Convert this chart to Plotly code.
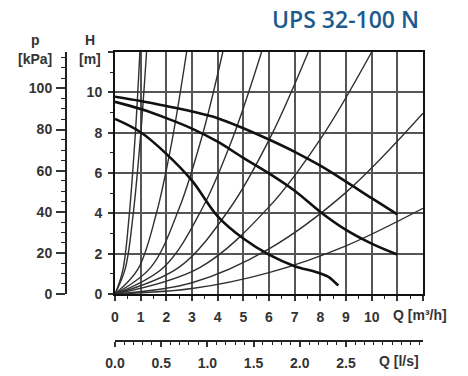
import plotly.graph_objects as go

# ---------------- data ----------------
q_ticks_m3h = [0, 1, 2, 3, 4, 5, 6, 7, 8, 9, 10, 11, 12]
q_tick_labels = ["0", "1", "2", "3", "4", "5", "6", "7", "8", "9", "10", "", ""]
h_ticks = [0, 2, 4, 6, 8, 10, 12]
h_tick_labels = ["0", "2", "4", "6", "8", "10", ""]
p_ticks = [0, 20, 40, 60, 80, 100]
ls_ticks = [0.0, 0.5, 1.0, 1.5, 2.0, 2.5]
ls_tick_labels = ["0.0", "0.5", "1.0", "1.5", "2.0", "2.5"]

# pump curves (Q m3/h, H m)
pump_high_q = [0, 1, 2, 3, 4, 5, 6, 7, 8, 9, 10, 11]
pump_high_h = [9.78, 9.57, 9.32, 9.05, 8.72, 8.22, 7.66, 7.05, 6.36, 5.57, 4.75, 3.95]
pump_mid_q = [0, 1, 2, 3, 4, 5, 6, 7, 8, 9, 10, 11]
pump_mid_h = [9.53, 9.17, 8.72, 8.2, 7.55, 6.75, 5.98, 5.12, 4.07, 3.18, 2.5, 1.96]
pump_low_q = [0, 1, 2, 3, 4, 5, 6, 7, 7.8, 8.3, 8.5, 8.7]
pump_low_h = [8.68, 8.02, 6.95, 5.62, 3.85, 2.75, 1.95, 1.38, 1.1, 0.86, 0.66, 0.42]

# system curves (Q m3/h, H m)
sys_a_q = [0, 0.3, 0.55, 0.8, 0.97]
sys_a_h = [0, 1.15, 3.85, 8.1, 12]
sys_b_q = [0, 0.4, 0.7, 1.0, 1.23]
sys_b_h = [0, 1.26, 3.87, 7.9, 12]
sys_c_q = [0, 0.9, 1.6, 2.2, 2.79]
sys_c_h = [0, 1.25, 3.94, 7.45, 12]
sys_d_q = [0, 1.4, 2.5, 3.4, 4.2]
sys_d_h = [0, 1.33, 4.25, 7.86, 12]
sys_e_q = [0, 1.9, 3.4, 4.6, 5.71]
sys_e_h = [0, 1.33, 4.25, 7.79, 12]
sys_f_q = [0, 2.5, 4.5, 6.1, 7.53]
sys_f_h = [0, 1.33, 4.29, 7.89, 12]
sys_g_q = [0, 3.3, 6, 8.1, 10]
sys_g_h = [0, 1.31, 4.32, 7.87, 12]
sys_i_q = [0, 3, 6, 9, 12]
sys_i_h = [0, 0.56, 2.24, 5.04, 8.96]
sys_j_q = [0, 3, 6, 9, 12]
sys_j_h = [0, 0.27, 1.06, 2.39, 4.25]

system_curves = [
    (sys_a_q, sys_a_h), (sys_b_q, sys_b_h), (sys_c_q, sys_c_h),
    (sys_d_q, sys_d_h), (sys_e_q, sys_e_h), (sys_f_q, sys_f_h),
    (sys_g_q, sys_g_h), (sys_i_q, sys_i_h), (sys_j_q, sys_j_h),
]
pump_curves = [
    (pump_high_q, pump_high_h), (pump_mid_q, pump_mid_h), (pump_low_q, pump_low_h),
]

H_MAX = 12
Q_MAX = 12
KPA_PER_M = 9.81
M3H_PER_LS = 3.6

# ---------------- figure ----------------
fig = go.Figure()

for q, h in system_curves:
    fig.add_trace(go.Scatter(
        x=q, y=h, mode="lines", line=dict(color="#303030", width=1.4, shape="spline"),
        hoverinfo="skip", showlegend=False))

for q, h in pump_curves:
    fig.add_trace(go.Scatter(
        x=q, y=h, mode="lines", line=dict(color="#111111", width=2.6, shape="spline"),
        hoverinfo="skip", showlegend=False))

# invisible helpers so the secondary axes are drawn
fig.add_trace(go.Scatter(x=[0], y=[0], xaxis="x2", yaxis="y", mode="markers",
                         marker=dict(opacity=0), hoverinfo="skip", showlegend=False))
fig.add_trace(go.Scatter(x=[0], y=[0], xaxis="x", yaxis="y2", mode="markers",
                         marker=dict(opacity=0), hoverinfo="skip", showlegend=False))

W, Hh = 468, 376
L, R, T, B = 10, 45, 52, 35
pw = W - L - R
ph = Hh - T - B

def px_x(xp):
    return (xp - L) / pw

def px_y(yp):
    return (Hh - B - yp) / ph

x_dom0 = px_x(115)
y_dom0 = px_y(294)

tickfont = dict(family="Liberation Sans, Arial, sans-serif", size=14, color="#333333", weight="bold")
gridcol = "#555555"

fig.update_layout(
    width=W, height=Hh,
    margin=dict(l=L, r=R, t=T, b=B, autoexpand=False),
    paper_bgcolor="white", plot_bgcolor="white",
    showlegend=False,
    xaxis=dict(
        domain=[x_dom0, 1], range=[0, Q_MAX], tickmode="array",
        tickvals=q_ticks_m3h, ticktext=q_tick_labels,
        ticks="outside", ticklen=5, tickwidth=2, tickcolor="#333",
        showgrid=True, gridcolor=gridcol, gridwidth=2,
        showline=True, linecolor="#111", linewidth=2, mirror=True,
        zeroline=False, tickfont=tickfont, ticklabelstandoff=4, automargin=False,
        minor=dict(tickmode="linear", tick0=0, dtick=0.5, ticks="outside",
                   ticklen=3, tickwidth=1, tickcolor="#222", showgrid=False),
        fixedrange=True,
    ),
    yaxis=dict(
        domain=[y_dom0, 1], range=[0, H_MAX], tickmode="array",
        tickvals=h_ticks, ticktext=h_tick_labels,
        ticks="outside", ticklen=5, tickwidth=2, tickcolor="#333",
        showgrid=True, gridcolor=gridcol, gridwidth=2,
        showline=True, linecolor="#111", linewidth=2, mirror=True,
        zeroline=False, tickfont=tickfont, ticklabelstandoff=3, automargin=False,
        minor=dict(tickmode="linear", tick0=0, dtick=1, ticks="outside",
                   ticklen=3, tickwidth=1, tickcolor="#222", showgrid=False),
        fixedrange=True,
    ),
    xaxis2=dict(
        overlaying="x", anchor="free", position=0, side="bottom",
        domain=[x_dom0, 1], range=[0, Q_MAX / M3H_PER_LS], tickmode="array",
        tickvals=ls_ticks, ticktext=ls_tick_labels,
        ticks="outside", ticklen=5, tickwidth=2, tickcolor="#333",
        showgrid=False, showline=True, linecolor="#222", linewidth=2,
        zeroline=False, tickfont=tickfont, ticklabelstandoff=4, automargin=False,
        minor=dict(tickmode="linear", tick0=0, dtick=0.1, ticks="outside",
                   ticklen=3, tickwidth=1, tickcolor="#222", showgrid=False),
        fixedrange=True,
    ),
    yaxis2=dict(
        overlaying="y", anchor="free", position=px_x(66), side="left",
        range=[0, H_MAX * KPA_PER_M], tickmode="array", tickvals=p_ticks,
        ticks="outside", ticklen=9, tickwidth=2, tickcolor="#333",
        showgrid=False, showline=True, linecolor="#222", linewidth=2,
        zeroline=False, tickfont=tickfont, ticklabelstandoff=1, automargin=False,
        minor=dict(tickmode="linear", tick0=0, dtick=5, ticks="outside",
                   ticklen=4, tickwidth=1, tickcolor="#222", showgrid=False),
        fixedrange=True,
    ),
)

lblfont = dict(family="Liberation Sans, Arial, sans-serif", size=14, color="#333333", weight="bold")
annots = [
    dict(text="UPS 32-100 N", x=px_x(421), y=px_y(19), xanchor="right", yanchor="middle",
         font=dict(family="Open Sans, Noto Sans, sans-serif", size=23, color="#1d5a8e", weight=600)),
    dict(text="p", x=px_x(35), y=px_y(40), xanchor="center", yanchor="middle", font=lblfont),
    dict(text="[kPa]", x=px_x(35), y=px_y(59), xanchor="center", yanchor="middle", font=lblfont),
    dict(text="H", x=px_x(90), y=px_y(40), xanchor="center", yanchor="middle", font=lblfont),
    dict(text="[m]", x=px_x(90), y=px_y(59), xanchor="center", yanchor="middle", font=lblfont),
    dict(text="Q [m³/h]", x=px_x(391), y=px_y(315), xanchor="left", yanchor="middle", font=lblfont),
    dict(text="Q [l/s]", x=px_x(377), y=px_y(361), xanchor="left", yanchor="middle", font=lblfont),
]
for a in annots:
    a.update(xref="paper", yref="paper", showarrow=False)
fig.update_layout(annotations=annots)

fig.write_html(
    "out.html",
    config={"displayModeBar": False, "staticPlot": True},
    post_script="document.body.style.margin='0px';document.body.style.overflow='hidden';",
)
